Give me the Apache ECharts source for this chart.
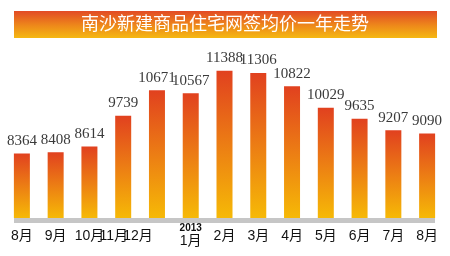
<!DOCTYPE html>
<html><head><meta charset="utf-8">
<script src="https://cdn.jsdelivr.net/npm/echarts@6/dist/echarts.min.js"></script>
<style>html,body{margin:0;padding:0;background:#fff}#c{width:450px;height:256px}</style>
</head><body><div id="c"></div>
<script>
const titleText = '南沙新建商品住宅网签均价一年走势';
const categories = ['8月','9月','10月','11月','12月','2013\n1月','2月','3月','4月','5月','6月','7月','8月'];
const prices = [8364, 8408, 8614, 9739, 10671, 10567, 11388, 11306, 10822, 10029, 9635, 9207, 9090];

const FONT = 'Liberation Sans Narrow, Liberation Sans, Noto Sans CJK SC, sans-serif';
const chart = echarts.init(document.getElementById('c'), null, {renderer:'canvas'});
const barGrad = new echarts.graphic.LinearGradient(0,0,0,1,[
  {offset:0,color:'#e1411f'},{offset:0.5,color:'#ec7d14'},{offset:1,color:'#f6b906'}]);
chart.setOption({
  animation:false,
  backgroundColor:'#fff',
  grid:{left:5,right:6,top:54,bottom:38},
  xAxis:{type:'category',data:categories,
    axisLine:{show:false},axisTick:{show:false},
    axisLabel:{interval:0,margin:18,verticalAlign:'middle',color:'#111',
      fontFamily:FONT,fontSize:14,
      formatter:function(v,i){
        if(v.indexOf('\n')>=0){const p=v.split('\n');return '{y|'+p[0]+'}\n{m|'+p[1]+'}';}
        if(i===3) return '{a|'+v+'}';
        if(i===4) return '{b|'+v+'}';
        return '{m|'+v+'}';
      },
      rich:{
        y:{fontSize:10,fontWeight:'bold',lineHeight:10,color:'#111',fontFamily:FONT},
        m:{fontSize:14,lineHeight:15,color:'#111',fontFamily:FONT},
        a:{fontSize:14,lineHeight:15,color:'#111',padding:[0,19,0,0],fontFamily:FONT},
        b:{fontSize:14,lineHeight:15,color:'#111',padding:[0,38,0,0],fontFamily:FONT}
      }}},
  yAxis:{type:'value',min:6000,max:12000,show:false,splitLine:{show:false}},
  series:[{type:'bar',data:prices,barWidth:16,
    itemStyle:{color:barGrad},
    label:{show:true,position:'top',distance:5,color:'#3a3a3a',fontSize:15,
      fontFamily:'Liberation Serif, DejaVu Serif, serif'}}],
  graphic:[
    {type:'rect',left:14,top:11,shape:{width:423,height:27},z:1,
      style:{fill:new echarts.graphic.LinearGradient(0,0,0,1,[
        {offset:0,color:'#e24a25'},{offset:0.55,color:'#ee8a1a'},{offset:1,color:'#f5b812'}])}},
    {type:'text',left:'center',top:14,z:2,
      style:{text:titleText,fill:'#fff',fontSize:18,fontFamily:'Noto Sans CJK SC, sans-serif'}},
    {type:'rect',left:14,top:218,shape:{width:421,height:5},z:1,style:{fill:'#c6c6c6'}}
  ]
});
</script></body></html>
